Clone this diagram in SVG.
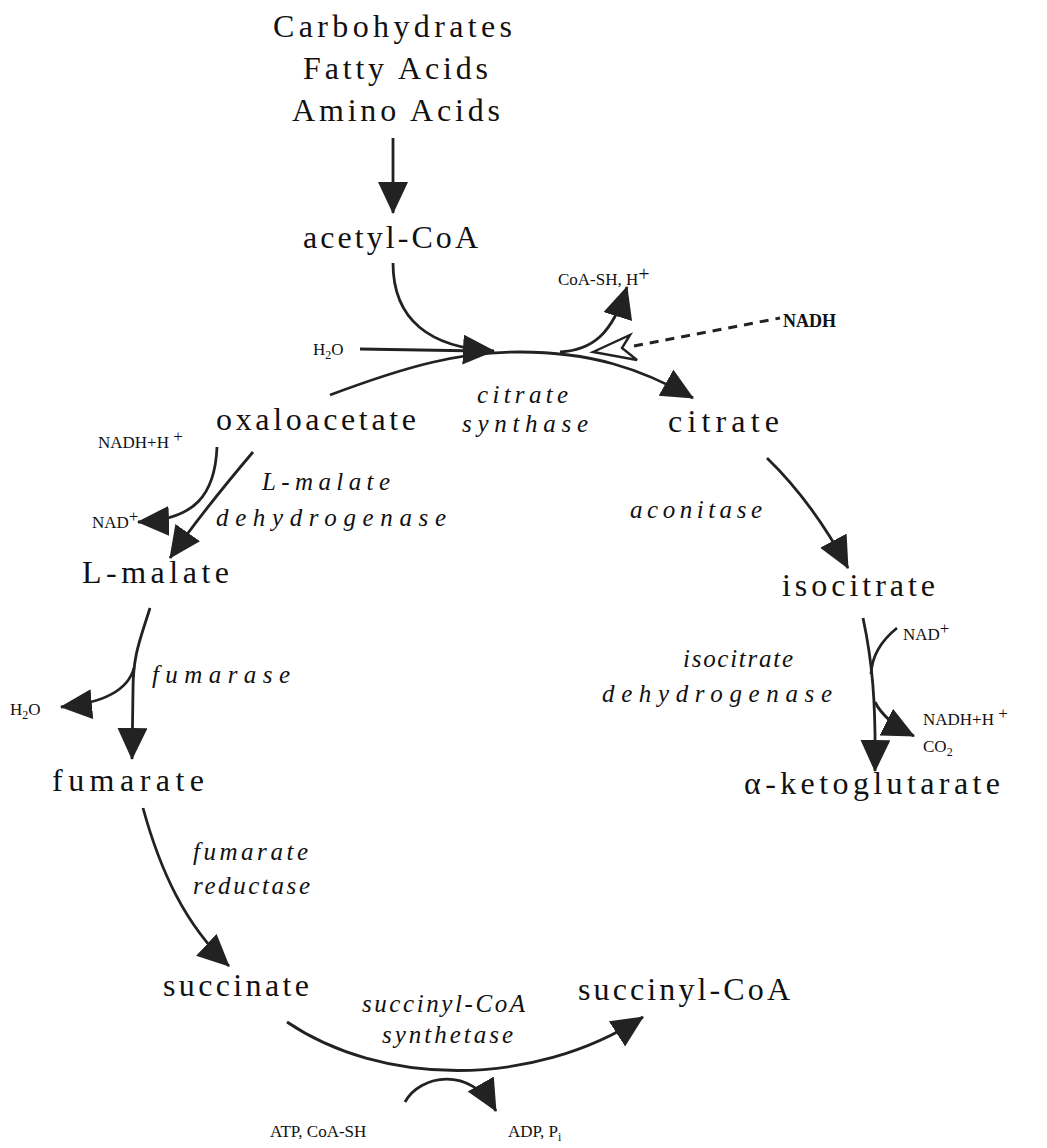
<svg xmlns="http://www.w3.org/2000/svg" width="1047" height="1148" viewBox="0 0 1047 1148">
<defs>
<marker id="ah" markerUnits="userSpaceOnUse" markerWidth="36" markerHeight="32" refX="31" refY="15" orient="auto" viewBox="0 0 36 32">
<path d="M0,0 L32,15 L0,30 Z" fill="#222"/>
</marker>
<style>
.m{font-family:"Liberation Serif","Times New Roman",serif;font-size:32px;fill:#111}
.e{font-family:"Liberation Serif","Times New Roman",serif;font-size:25px;font-style:italic;fill:#111}
.s{font-family:"Liberation Serif","Times New Roman",serif;font-size:17px;fill:#111}
.b{font-family:"Liberation Serif","Times New Roman",serif;font-size:18px;font-weight:bold;fill:#111}
.ln{fill:none;stroke:#222;stroke-width:2.8}
.ar{fill:none;stroke:#222;stroke-width:2.8;marker-end:url(#ah)}
</style>
</defs>
<rect width="1047" height="1148" fill="#fff"/>

<g id="connectors">
<path class="ar" d="M393,138 L393,213"/>
<path class="ar" d="M393,263 C393,320 430,348 494,351"/>
<path class="ln" d="M360,349 L480,351"/>
<path class="ar" d="M330,395 C410,365 460,352 520,352 C590,352 640,368 693,398"/>
<path class="ar" d="M560,352 C592,350 612,335 627,287"/>
<path d="M593,352 L630,335 L622,348 L637,360 Z" fill="#fff" stroke="#222" stroke-width="2.4"/>
<path d="M634,346 L780,318" fill="none" stroke="#222" stroke-width="3" stroke-dasharray="9,7"/>
<path class="ar" d="M253,452 C225,485 200,515 170,558"/>
<path class="ar" d="M217,447 C215,495 195,520 138,522"/>
<path class="ar" d="M150,608 C140,640 133,655 133,690 L132,759"/>
<path class="ar" d="M134,668 C128,690 105,703 61,707"/>
<path class="ar" d="M143,808 C160,870 185,925 229,966"/>
<path class="ar" d="M287,1022 C380,1085 530,1090 643,1017"/>
<path class="ar" d="M405,1102 C420,1075 470,1065 496,1111"/>
<path class="ar" d="M767,458 C800,490 825,525 848,568"/>
<path class="ar" d="M863,618 C872,660 876,700 875,771"/>
<path class="ln" d="M897,628 C882,640 872,655 871,674"/>
<path class="ar" d="M875,702 C883,718 898,728 914,736"/>
</g>

<g id="sources"><text class="m" x="273" y="37" textLength="239" lengthAdjust="spacing">Carbohydrates</text>
<text class="m" x="303" y="79" textLength="185" lengthAdjust="spacing">Fatty  Acids</text>
<text class="m" x="292" y="121" textLength="208" lengthAdjust="spacing">Amino  Acids</text></g>
<g id="acetyl-coa"><text class="m" x="303" y="248" textLength="175" lengthAdjust="spacing">acetyl-CoA</text></g>
<g id="oxaloacetate"><text class="m" x="216" y="430" textLength="200" lengthAdjust="spacing">oxaloacetate</text></g>
<g id="citrate"><text class="m" x="668" y="432" textLength="111" lengthAdjust="spacing">citrate</text></g>
<g id="isocitrate"><text class="m" x="782" y="596" textLength="153" lengthAdjust="spacing">isocitrate</text></g>
<g id="a-ketoglutarate"><text class="m" x="744" y="794" textLength="256" lengthAdjust="spacing">α-ketoglutarate</text></g>
<g id="l-malate"><text class="m" x="82" y="583" textLength="147" lengthAdjust="spacing">L-malate</text></g>
<g id="fumarate"><text class="m" x="52" y="791" textLength="152" lengthAdjust="spacing">fumarate</text></g>
<g id="succinate"><text class="m" x="163" y="996" textLength="146" lengthAdjust="spacing">succinate</text></g>
<g id="succinyl-coa"><text class="m" x="578" y="1000" textLength="212" lengthAdjust="spacing">succinyl-CoA</text></g>

<g id="enzymes">
<text class="e" x="477" y="403" textLength="91" lengthAdjust="spacing">citrate</text>
<text class="e" x="462" y="432" textLength="126" lengthAdjust="spacing">synthase</text>
<text class="e" x="262" y="490" textLength="128" lengthAdjust="spacing">L-malate</text>
<text class="e" x="216" y="526" textLength="230" lengthAdjust="spacing">dehydrogenase</text>
<text class="e" x="630" y="518" textLength="132" lengthAdjust="spacing">aconitase</text>
<text class="e" x="683" y="667" textLength="110" lengthAdjust="spacing">isocitrate</text>
<text class="e" x="602" y="702" textLength="230" lengthAdjust="spacing">dehydrogenase</text>
<text class="e" x="152" y="683" textLength="138" lengthAdjust="spacing">fumarase</text>
<text class="e" x="193" y="860" textLength="115" lengthAdjust="spacing">fumarate</text>
<text class="e" x="193" y="894" textLength="117" lengthAdjust="spacing">reductase</text>
<text class="e" x="362" y="1012" textLength="163" lengthAdjust="spacing">succinyl-CoA</text>
<text class="e" x="382" y="1043" textLength="131" lengthAdjust="spacing">synthetase</text>
</g>

<g id="cofactors">
<text class="s" x="313" y="355">H<tspan font-size="12" dy="4">2</tspan><tspan dy="-4">O</tspan></text>
<text class="s" x="558" y="285">CoA-SH, H<tspan font-size="20" dy="-4">+</tspan></text>
<text class="b" x="783" y="327">NADH</text>
<text class="s" x="98" y="448">NADH+H <tspan dy="-6">+</tspan></text>
<text class="s" x="92" y="528">NAD<tspan dy="-6">+</tspan></text>
<text class="s" x="10" y="715">H<tspan font-size="12" dy="4">2</tspan><tspan dy="-4">O</tspan></text>
<text class="s" x="903" y="640">NAD<tspan dy="-6">+</tspan></text>
<text class="s" x="923" y="725">NADH+H <tspan dy="-6">+</tspan></text>
<text class="s" x="923" y="752">CO<tspan font-size="12" dy="4">2</tspan></text>
<text class="s" x="270" y="1137">ATP, CoA-SH</text>
<text class="s" x="508" y="1137">ADP, P<tspan font-size="12" dy="4">i</tspan></text>
</g>
</svg>
